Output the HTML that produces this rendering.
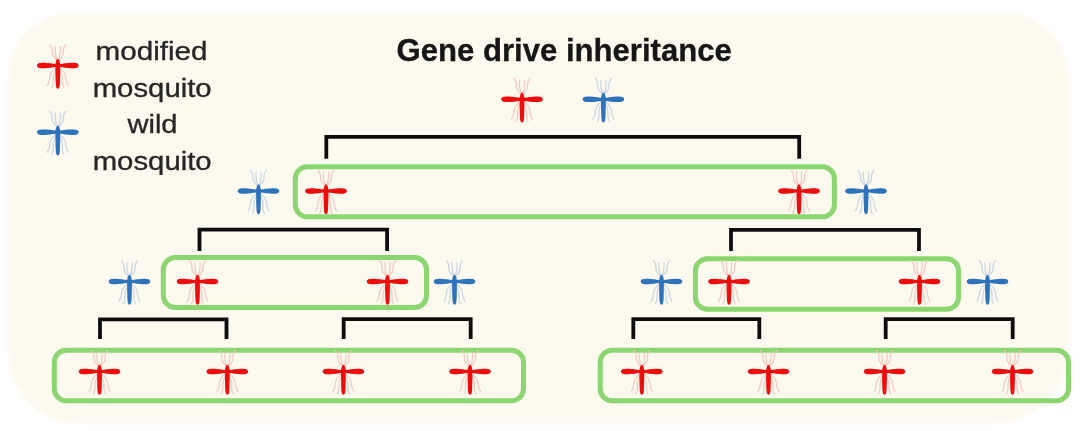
<!DOCTYPE html>
<html><head><meta charset="utf-8"><style>html,body{margin:0;padding:0;background:#fff;width:1080px;height:431px;overflow:hidden}svg{display:block}</style></head>
<body><svg width="1080" height="431" viewBox="0 0 1080 431">
<defs>
<symbol id="mr" overflow="visible" viewBox="-25 -25 50 50" width="50" height="50">
<g stroke="#f5c8c2" stroke-width="1.2" fill="none" stroke-linecap="round" stroke-linejoin="round">
<path d="M-1.5,-6 Q-6,-10 -5.5,-13.5 Q-5,-17 -8,-21"/><path d="M1.5,-6 Q6,-10 5.5,-13.5 Q5,-17 8,-21"/>
<path d="M-0.8,-6.5 Q-3,-11 -2.5,-19"/><path d="M0.8,-6.5 Q3,-11 2.5,-19"/>
<path d="M-2,2.5 Q-8,7 -8,12 Q-8,16 -10.5,20"/><path d="M2,2.5 Q8,7 8,12 Q8,16 10.5,20"/>
<path d="M-2,5 Q-5,10 -4.5,14 Q-4,19 -6,22.5"/><path d="M2,5 Q5,10 4.5,14 Q4,19 6,22.5"/>
</g>
<path d="M-20.8,0 C-20.8,-3 -16,-3 -11,-2.6 C-6,-2.1 -3,-1.6 0,-1.6 C3,-1.6 6,-2.1 11,-2.6 C16,-3 20.8,-3 20.8,0 C20.8,3 16,3 11,2.6 C6,2.1 3,1.6 0,1.6 C-3,1.6 -6,2.1 -11,2.6 C-16,3 -20.8,3 -20.8,0Z" fill="#ee0808"/>
<path d="M0,-6.8 C1.3,-6.8 2.4,-3 2.4,0 C2.4,6 2.3,14 2.0,19 C1.8,22 1,23.2 0,23.2 C-1,23.2 -1.8,22 -2.0,19 C-2.3,14 -2.4,6 -2.4,0 C-2.4,-3 -1.3,-6.8 0,-6.8Z" fill="#ee0808"/>
</symbol>
<symbol id="mb" overflow="visible" viewBox="-25 -25 50 50" width="50" height="50">
<g stroke="#c9d5e5" stroke-width="1.2" fill="none" stroke-linecap="round" stroke-linejoin="round">
<path d="M-1.5,-6 Q-6,-10 -5.5,-13.5 Q-5,-17 -8,-21"/><path d="M1.5,-6 Q6,-10 5.5,-13.5 Q5,-17 8,-21"/>
<path d="M-0.8,-6.5 Q-3,-11 -2.5,-19"/><path d="M0.8,-6.5 Q3,-11 2.5,-19"/>
<path d="M-2,2.5 Q-8,7 -8,12 Q-8,16 -10.5,20"/><path d="M2,2.5 Q8,7 8,12 Q8,16 10.5,20"/>
<path d="M-2,5 Q-5,10 -4.5,14 Q-4,19 -6,22.5"/><path d="M2,5 Q5,10 4.5,14 Q4,19 6,22.5"/>
</g>
<path d="M-20.8,0 C-20.8,-3 -16,-3 -11,-2.6 C-6,-2.1 -3,-1.6 0,-1.6 C3,-1.6 6,-2.1 11,-2.6 C16,-3 20.8,-3 20.8,0 C20.8,3 16,3 11,2.6 C6,2.1 3,1.6 0,1.6 C-3,1.6 -6,2.1 -11,2.6 C-16,3 -20.8,3 -20.8,0Z" fill="#2f72bc"/>
<path d="M0,-6.8 C1.3,-6.8 2.4,-3 2.4,0 C2.4,6 2.3,14 2.0,19 C1.8,22 1,23.2 0,23.2 C-1,23.2 -1.8,22 -2.0,19 C-2.3,14 -2.4,6 -2.4,0 C-2.4,-3 -1.3,-6.8 0,-6.8Z" fill="#2f72bc"/>
</symbol>
<filter id="bl" x="-5%" y="-5%" width="110%" height="110%"><feGaussianBlur stdDeviation="2"/></filter>
<filter id="sb" x="0" y="0" width="1080" height="431" filterUnits="userSpaceOnUse"><feGaussianBlur stdDeviation="0.45"/></filter>
</defs>
<rect x="0" y="0" width="1080" height="431" fill="#ffffff"/>
<path d="M73,12.5 H1006 A62,62 0 0 1 1068,74.5 V348 A76,76 0 0 1 992,424 H80 A72,72 0 0 1 8,352 V77.5 A65,65 0 0 1 73,12.5 Z" fill="#fcf9ee" filter="url(#bl)"/>
<g filter="url(#sb)">
<g fill="none" stroke="#111" stroke-width="3.8" stroke-linejoin="miter" stroke-linecap="butt"><path d="M326.3,158.8 V136.9 H799.2 V158.8"/><path d="M199.5,251 V229.7 H387.1 V251"/><path d="M731,251 V229.9 H919 V251"/><path d="M100,339 V319.3 H226.5 V339"/><path d="M343.7,339 V319.1 H470.7 V339"/><path d="M633.3,339 V319.1 H759.3 V339"/><path d="M885.7,339 V319.1 H1012.7 V339"/></g>
<g fill="none" stroke="#8cd672" stroke-width="5.0"><rect x="295.30" y="166.80" width="539.10" height="50.00" rx="12" ry="12"/><rect x="163.30" y="257.60" width="263.20" height="50.00" rx="12" ry="12"/><rect x="695.40" y="258.80" width="263.10" height="50.50" rx="12" ry="12"/><rect x="54.30" y="350.30" width="469.20" height="50.50" rx="12" ry="12"/><rect x="600.20" y="350.30" width="468.30" height="50.50" rx="12" ry="12"/></g>
<use href="#mr" x="32.8" y="40.5"/><use href="#mr" x="497" y="74.3"/><use href="#mr" x="301" y="166"/><use href="#mr" x="774" y="166"/><use href="#mr" x="172.5" y="256.5"/><use href="#mr" x="362.5" y="256.5"/><use href="#mr" x="704" y="256.5"/><use href="#mr" x="894.5" y="256.5"/><use href="#mr" x="74.5" y="346.5"/><use href="#mr" x="202.3" y="346.5"/><use href="#mr" x="318.4" y="346.5"/><use href="#mr" x="445" y="346.5"/><use href="#mr" x="616.8" y="346.5"/><use href="#mr" x="743.5" y="346.5"/><use href="#mr" x="859.5" y="346.5"/><use href="#mr" x="987.5" y="346.5"/><use href="#mb" x="32.8" y="107.19999999999999"/><use href="#mb" x="578.4" y="74.3"/><use href="#mb" x="233.5" y="166"/><use href="#mb" x="841" y="166"/><use href="#mb" x="104.5" y="256.5"/><use href="#mb" x="429.5" y="256.5"/><use href="#mb" x="636.5" y="256.5"/><use href="#mb" x="962.5" y="256.5"/>
<g font-family="Liberation Sans, sans-serif" fill="#262626" stroke="#262626" stroke-width="0.3">
<text x="396.5" y="60.6" font-weight="bold" font-size="31" fill="#141414" stroke="#141414" stroke-width="0.3" textLength="335.3" lengthAdjust="spacingAndGlyphs">Gene drive inheritance</text>
<text x="95.5" y="60.2" font-size="25" textLength="112" lengthAdjust="spacingAndGlyphs">modified</text>
<text x="92.7" y="97.3" font-size="25" textLength="119" lengthAdjust="spacingAndGlyphs">mosquito</text>
<text x="127.4" y="133.4" font-size="25" textLength="50.2" lengthAdjust="spacingAndGlyphs">wild</text>
<text x="92.7" y="169.7" font-size="25" textLength="119" lengthAdjust="spacingAndGlyphs">mosquito</text>
</g>
</g>
</svg></body></html>
